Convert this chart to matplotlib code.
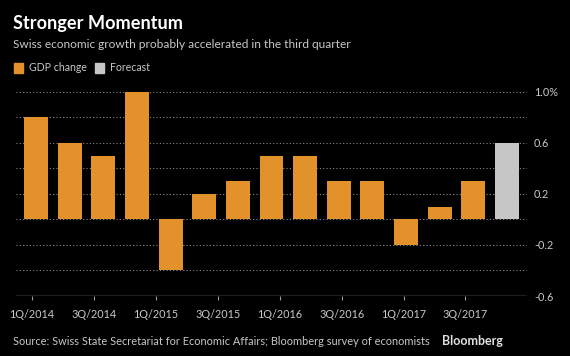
import numpy as np
import matplotlib
matplotlib.use('Agg')
import matplotlib.pyplot as plt
from matplotlib.patches import Rectangle

quarters = ['1Q/2014', '2Q/2014', '3Q/2014', '4Q/2014',
            '1Q/2015', '2Q/2015', '3Q/2015', '4Q/2015',
            '1Q/2016', '2Q/2016', '3Q/2016', '4Q/2016',
            '1Q/2017', '2Q/2017', '3Q/2017']
gdp_change = [0.8, 0.6, 0.5, 1.0, -0.4, 0.2, 0.3, 0.5, 0.5, 0.3, 0.3, -0.2, 0.1, 0.3]
forecast = [0.6]
tick_labels = ['1Q/2014', '3Q/2014', '1Q/2015', '3Q/2015',
               '1Q/2016', '3Q/2016', '1Q/2017', '3Q/2017']
y_labels = ['-0.6', '-0.2', '0.2', '0.6', '1.0%']
y_label_vals = [-0.6, -0.2, 0.2, 0.6, 1.0]
grid_vals = [-0.4, -0.2, 0.0, 0.2, 0.4, 0.6, 0.8, 1.0]

orange = '#e3922b'
gray = '#c6c6c6'
txt = '#c8c8c8'
plt.rcParams['font.family'] = ['Lato', 'DejaVu Sans']

fig = plt.figure(figsize=(5.7, 3.56), dpi=100, facecolor='black')
ax = fig.add_axes([0.028, 0.1685, 0.8966, 0.574], facecolor='black')

x = np.arange(len(quarters))
n = len(gdp_change)
ax.bar(x[:n], gdp_change, width=0.71, color=orange, zorder=2)
ax.bar(x[n:], forecast, width=0.71, color=gray, zorder=2)

for g in grid_vals:
    ax.axhline(g, color='#8a8a8a', lw=0.8, ls=(0, (1, 2)), zorder=1)
ax.axhline(-0.6, color='#9a9a9a', lw=1.0, zorder=3)

ax.set_xlim(-0.6, 14.6)
ax.set_ylim(-0.6, 1.0)
for s in ax.spines.values():
    s.set_visible(False)

# Bloomberg's time ticks don't line up with bar centers
ax.set_xticks(np.linspace(-0.12, 12.77, len(tick_labels)))
ax.set_xticklabels(tick_labels, color=txt, fontsize=7.8)
ax.tick_params(axis='x', length=3, color='#9a9a9a', pad=6)

ax.yaxis.tick_right()
ax.set_yticks(y_label_vals)
ax.set_yticklabels(y_labels, color=txt, fontsize=7.8)
ax.tick_params(axis='y', length=0, pad=5)

fig.text(0.023, 0.935, 'Stronger Momentum', color='white', fontsize=13.1,
         fontweight='bold', va='center')
fig.text(0.023, 0.876, 'Swiss economic growth probably accelerated in the third quarter',
         color=txt, fontsize=8.6, va='center')

fig.patches.append(Rectangle((0.0245, 0.796), 0.0163, 0.026, transform=fig.transFigure,
                             color=orange))
fig.text(0.051, 0.809, 'GDP change', color=txt, fontsize=7.6, va='center')
fig.patches.append(Rectangle((0.1665, 0.796), 0.0163, 0.026, transform=fig.transFigure,
                             color=gray))
fig.text(0.193, 0.809, 'Forecast', color=txt, fontsize=7.6, va='center')

fig.text(0.023, 0.042, 'Source: Swiss State Secretariat for Economic Affairs; Bloomberg survey of economists',
         color=txt, fontsize=7.9, va='center')
fig.text(0.8825, 0.042, 'Bloomberg', color='#e0e0e0', fontsize=9.0, fontweight='bold',
         va='center', ha='right')

fig.savefig('out.png', dpi=100, facecolor='black')
